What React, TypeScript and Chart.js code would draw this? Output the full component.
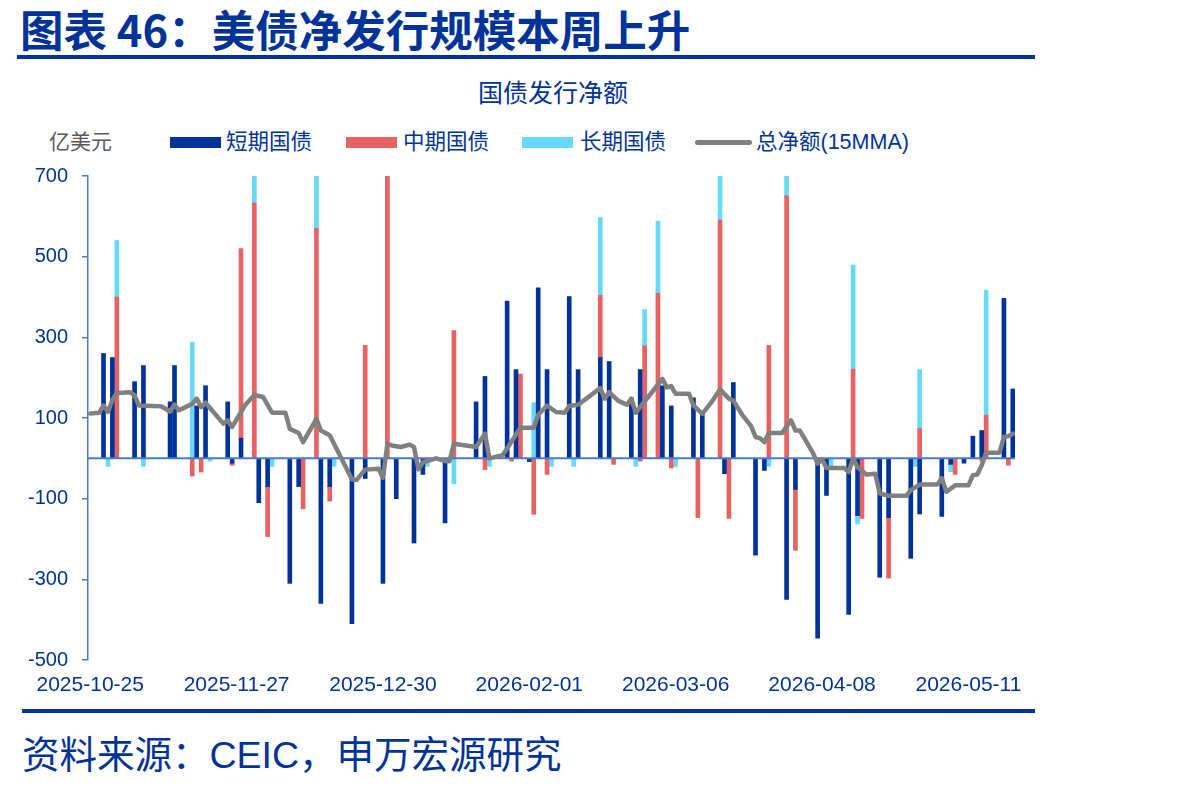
import React, { useEffect, useRef } from 'react';
import { Chart, registerables } from 'chart.js';

Chart.register(...registerables);

// ---- categories (daily axis) ----
const START_DATE = '2025-10-25';
const END_DATE = '2026-05-21';
const tickLabels = ['2025-10-25', '2025-11-27', '2025-12-30', '2026-02-01', '2026-03-06', '2026-04-08', '2026-05-11'];

function buildDays(start: string, end: string): string[] {
  const out: string[] = [];
  let t = Date.parse(start + 'T00:00:00Z');
  const e = Date.parse(end + 'T00:00:00Z');
  while (t <= e) {
    out.push(new Date(t).toISOString().slice(0, 10));
    t += 86400000;
  }
  return out;
}
const days = buildDays(START_DATE, END_DATE);

// ---- series (亿美元) ----
const seriesNames = ['短期国债', '中期国债', '长期国债', '总净额(15MMA)'];

const shortTerm: [string, number][] = [
  ['2025-10-28', 260], ['2025-10-30', 250], ['2025-11-04', 190], ['2025-11-06', 230],
  ['2025-11-12', 140], ['2025-11-13', 230], ['2025-11-18', 130], ['2025-11-20', 180],
  ['2025-11-25', 140], ['2025-11-26', -12], ['2025-11-28', 50], ['2025-12-02', -110],
  ['2025-12-04', -70], ['2025-12-09', -310], ['2025-12-11', -70], ['2025-12-16', -360],
  ['2025-12-18', -70], ['2025-12-23', -410], ['2025-12-26', -50], ['2025-12-30', -310],
  ['2026-01-02', -100], ['2026-01-06', -210], ['2026-01-08', -40], ['2026-01-13', -160],
  ['2026-01-20', 140], ['2026-01-22', 203], ['2026-01-27', 390], ['2026-01-29', 220],
  ['2026-02-01', -8], ['2026-02-03', 423], ['2026-02-05', 220], ['2026-02-10', 401],
  ['2026-02-12', 220], ['2026-02-17', 250], ['2026-02-19', 240], ['2026-02-24', 150],
  ['2026-02-26', 220], ['2026-03-03', 180], ['2026-03-05', 130], ['2026-03-10', 150],
  ['2026-03-12', 115], ['2026-03-17', -38], ['2026-03-19', 188], ['2026-03-24', -240],
  ['2026-03-26', -30], ['2026-03-31', -350], ['2026-04-02', -77], ['2026-04-07', -446],
  ['2026-04-09', -92], ['2026-04-14', -387], ['2026-04-16', -142], ['2026-04-21', -295],
  ['2026-04-23', -147], ['2026-04-28', -248], ['2026-04-30', -138], ['2026-05-05', -144],
  ['2026-05-07', -15], ['2026-05-10', -12], ['2026-05-12', 55], ['2026-05-14', 69],
  ['2026-05-19', 397], ['2026-05-21', 172],
];

const mediumTerm: [string, number][] = [
  ['2025-10-31', 400], ['2025-11-17', -44], ['2025-11-19', -34], ['2025-11-26', -5],
  ['2025-11-28', 470], ['2025-12-01', 633], ['2025-12-04', -124], ['2025-12-12', -125],
  ['2025-12-15', 570], ['2025-12-18', -36], ['2025-12-26', 280], ['2025-12-31', 730],
  ['2026-01-15', 317], ['2026-01-22', -28], ['2026-01-28', -7], ['2026-01-30', 209],
  ['2026-02-02', -139], ['2026-02-05', -40], ['2026-02-17', 154], ['2026-02-20', -15],
  ['2026-02-26', -7], ['2026-02-27', 279], ['2026-03-02', 409], ['2026-03-05', -24],
  ['2026-03-11', -147], ['2026-03-16', 591], ['2026-03-18', -149], ['2026-03-27', 280],
  ['2026-03-31', 651], ['2026-04-02', -151], ['2026-04-15', 221], ['2026-04-17', -149],
  ['2026-04-23', -150], ['2026-04-30', 74], ['2026-05-08', -40], ['2026-05-14', -7],
  ['2026-05-15', 107], ['2026-05-20', -17],
];

const longTerm: [string, number][] = [
  ['2025-10-29', -20], ['2025-10-31', 140], ['2025-11-06', -20], ['2025-11-17', 288],
  ['2025-11-21', -7], ['2025-12-01', 110], ['2025-12-05', -20], ['2025-12-15', 150],
  ['2025-12-19', -20], ['2026-01-09', -20], ['2026-01-15', -63], ['2026-01-23', -20],
  ['2026-02-02', 138], ['2026-02-06', -20], ['2026-02-11', -20], ['2026-02-17', 193],
  ['2026-02-25', -20], ['2026-02-27', 90], ['2026-03-02', 179], ['2026-03-06', -20],
  ['2026-03-16', 130], ['2026-03-27', -20], ['2026-03-31', 80], ['2026-04-10', -20],
  ['2026-04-15', 258], ['2026-04-16', -21], ['2026-04-29', -20], ['2026-04-30', 146],
  ['2026-05-07', -18], ['2026-05-15', 310],
];

const netMMA: [string, number][] = [
  ['2025-10-25', 111], ['2025-10-27', 113], ['2025-10-28', 131], ['2025-10-29', 115],
  ['2025-10-30', 145], ['2025-10-31', 162], ['2025-11-03', 164], ['2025-11-04', 156],
  ['2025-11-05', 131], ['2025-11-10', 129], ['2025-11-12', 116], ['2025-11-13', 133],
  ['2025-11-14', 119], ['2025-11-17', 135], ['2025-11-18', 148], ['2025-11-19', 127],
  ['2025-11-20', 138], ['2025-11-24', 86], ['2025-11-25', 94], ['2025-11-26', 78],
  ['2025-11-29', 133], ['2025-12-01', 157], ['2025-12-03', 152], ['2025-12-05', 113],
  ['2025-12-08', 113], ['2025-12-09', 73], ['2025-12-11', 63], ['2025-12-12', 40],
  ['2025-12-15', 98], ['2025-12-16', 69], ['2025-12-18', 57], ['2025-12-23', -52],
  ['2025-12-24', -54], ['2025-12-26', -28], ['2025-12-29', -26], ['2025-12-30', -48],
  ['2025-12-31', 36], ['2026-01-01', 32], ['2026-01-03', 28], ['2026-01-05', 34],
  ['2026-01-06', 28], ['2026-01-07', -27], ['2026-01-08', -10], ['2026-01-11', 0],
  ['2026-01-13', -7], ['2026-01-14', -7], ['2026-01-15', 36], ['2026-01-20', 28],
  ['2026-01-22', 61], ['2026-01-23', 0], ['2026-01-26', 8], ['2026-01-30', 76],
  ['2026-02-02', 76], ['2026-02-03', 108], ['2026-02-05', 131], ['2026-02-07', 115],
  ['2026-02-09', 113], ['2026-02-10', 130], ['2026-02-12', 133], ['2026-02-17', 174],
  ['2026-02-18', 148], ['2026-02-19', 164], ['2026-02-21', 143], ['2026-02-23', 133],
  ['2026-02-24', 148], ['2026-02-25', 113], ['2026-03-03', 197], ['2026-03-04', 176],
  ['2026-03-05', 179], ['2026-03-06', 160], ['2026-03-09', 160], ['2026-03-10', 131],
  ['2026-03-12', 110], ['2026-03-14', 138], ['2026-03-16', 171], ['2026-03-18', 148],
  ['2026-03-19', 143], ['2026-03-21', 108], ['2026-03-23', 80], ['2026-03-24', 53],
  ['2026-03-25', 50], ['2026-03-26', 40], ['2026-03-27', 63], ['2026-03-30', 63],
  ['2026-04-01', 94], ['2026-04-02', 69], ['2026-04-03', 69], ['2026-04-04', 50],
  ['2026-04-06', 12], ['2026-04-07', -13], ['2026-04-08', -2], ['2026-04-09', -24],
  ['2026-04-13', -24], ['2026-04-14', -34], ['2026-04-15', 0], ['2026-04-16', -22],
  ['2026-04-18', -40], ['2026-04-20', -38], ['2026-04-21', -87], ['2026-04-23', -93],
  ['2026-04-27', -93], ['2026-04-28', -79], ['2026-04-30', -65], ['2026-05-04', -65],
  ['2026-05-05', -49], ['2026-05-06', -83], ['2026-05-08', -67], ['2026-05-11', -67],
  ['2026-05-12', -42], ['2026-05-13', -40], ['2026-05-14', -17], ['2026-05-15', 14],
  ['2026-05-18', 14], ['2026-05-19', 53], ['2026-05-20', 55], ['2026-05-21', 61],
];

const yTicks = { min: -500, max: 700, step: 200 };

// ---- styles ----
const NAVY = '#003399';
const AXIS_BLUE = '#4A78D6';
const COLORS = ['#003399', '#E86262', '#66D9FF', '#808080'];
const LATIN = '"Liberation Sans", Arial, "Noto Sans CJK SC", sans-serif';
const CJK = '"Liberation Sans", "Noto Sans CJK SC", sans-serif';

const zeroLinePlugin = {
  id: 'zeroLine',
  beforeDatasetDraw(chart: any, args: any) {
    if (args.meta.type !== 'line') return;
    const { ctx, chartArea, scales } = chart;
    const y = scales.y.getPixelForValue(0);
    ctx.save();
    ctx.strokeStyle = AXIS_BLUE;
    ctx.lineWidth = 2;
    ctx.beginPath();
    ctx.moveTo(chartArea.left, y);
    ctx.lineTo(chartArea.right, y);
    ctx.stroke();
    ctx.restore();
  },
};

function toPoints(list: [string, number][]) {
  return list.map(([x, y]) => ({ x, y }));
}

function NetIssuanceChart() {
  const ref = useRef<HTMLCanvasElement | null>(null);
  useEffect(() => {
    if (!ref.current) return;
    const barCommon = {
      type: 'bar' as const,
      stack: 'issuance',
      order: 1,
      barThickness: 4,
      borderWidth: 0,
    };
    const chart = new Chart(ref.current, {
      type: 'bar',
      data: {
        labels: days,
        datasets: [
          { ...barCommon, label: seriesNames[0], data: toPoints(shortTerm) as any, backgroundColor: COLORS[0] },
          { ...barCommon, label: seriesNames[1], data: toPoints(mediumTerm) as any, backgroundColor: COLORS[1] },
          { ...barCommon, label: seriesNames[2], data: toPoints(longTerm) as any, backgroundColor: COLORS[2] },
          {
            type: 'line' as const,
            label: seriesNames[3],
            data: toPoints(netMMA) as any,
            stack: 'net',
            order: 0,
            borderColor: COLORS[3],
            borderWidth: 4.5,
            pointRadius: 0,
            tension: 0,
            borderJoinStyle: 'round',
            borderCapStyle: 'round',
            fill: false,
          } as any,
        ],
      },
      options: {
        responsive: true,
        maintainAspectRatio: false,
        animation: false,
        layout: { padding: { top: 5, right: 25, left: 0, bottom: 0 } },
        plugins: { legend: { display: false }, title: { display: false }, tooltip: { enabled: false } },
        scales: {
          x: {
            type: 'category',
            offset: true,
            stacked: true,
            grid: { display: false, drawTicks: false },
            border: { display: false },
            ticks: {
              autoSkip: false,
              maxRotation: 0,
              minRotation: 0,
              padding: 13,
              color: NAVY,
              font: { family: LATIN, size: 21 },
              callback: (_v: any, i: number) => (tickLabels.includes(days[i]) ? days[i] : ''),
            },
            afterFit: (s: any) => { s.height = 45; },
          },
          y: {
            stacked: true,
            min: yTicks.min,
            max: yTicks.max,
            ticks: { stepSize: yTicks.step, color: NAVY, font: { family: LATIN, size: 20 }, padding: 14 },
            grid: { drawOnChartArea: false, drawTicks: true, tickLength: 6, color: AXIS_BLUE, lineWidth: 1.5 },
            border: { display: true, color: AXIS_BLUE, width: 1.5 },
            afterFit: (s: any) => { s.width = 88; },
          },
        },
      },
      plugins: [zeroLinePlugin],
    });
    return () => chart.destroy();
  }, []);
  return <canvas ref={ref} />;
}

const legendItems = [
  { name: seriesNames[0], color: COLORS[0], kind: 'box', markLeft: 170, textLeft: 226 },
  { name: seriesNames[1], color: COLORS[1], kind: 'box', markLeft: 346, textLeft: 403 },
  { name: seriesNames[2], color: COLORS[2], kind: 'box', markLeft: 522, textLeft: 580 },
  { name: seriesNames[3], color: COLORS[3], kind: 'line', markLeft: 695, textLeft: 756 },
];

export default function App() {
  return (
    <div style={{ position: 'absolute', left: 0, top: 0, width: 1190, height: 787, background: '#fff', overflow: 'hidden' }}>
      <div style={{ position: 'absolute', left: 20, top: 5, fontFamily: '"Noto Sans CJK SC", sans-serif', fontWeight: 700, fontSize: 43.5, lineHeight: '48px', color: NAVY, whiteSpace: 'nowrap' }}>
        图表 46：美债净发行规模本周上升
      </div>
      <div style={{ position: 'absolute', left: 17, top: 55, width: 1018, height: 4, background: NAVY }} />
      <div style={{ position: 'absolute', left: 353, width: 400, top: 78, textAlign: 'center', fontFamily: CJK, fontSize: 25, lineHeight: '30px', color: NAVY }}>
        国债发行净额
      </div>
      <div style={{ position: 'absolute', left: 49, top: 129, fontFamily: CJK, fontSize: 21, lineHeight: '26px', color: '#595959' }}>亿美元</div>
      {legendItems.map((it) => (
        <React.Fragment key={it.name}>
          {it.kind === 'box' ? (
            <div style={{ position: 'absolute', left: it.markLeft, top: 137, width: 51, height: 11, background: it.color }} />
          ) : (
            <div style={{ position: 'absolute', left: it.markLeft, top: 140, width: 57, height: 5, borderRadius: 3, background: it.color }} />
          )}
          <div style={{ position: 'absolute', left: it.textLeft, top: 129, fontFamily: CJK, fontSize: 21.5, lineHeight: '26px', color: NAVY, whiteSpace: 'nowrap' }}>
            {it.name}
          </div>
        </React.Fragment>
      ))}
      <div style={{ position: 'absolute', left: 0, top: 150, width: 1040, height: 555 }}>
        <NetIssuanceChart />
      </div>
      <div style={{ position: 'absolute', left: 22, top: 709, width: 1013, height: 4, background: NAVY }} />
      <div style={{ position: 'absolute', left: 22, top: 732, fontFamily: CJK, fontSize: 37.5, lineHeight: '46px', color: NAVY, whiteSpace: 'nowrap' }}>
        资料来源：CEIC，申万宏源研究
      </div>
    </div>
  );
}
